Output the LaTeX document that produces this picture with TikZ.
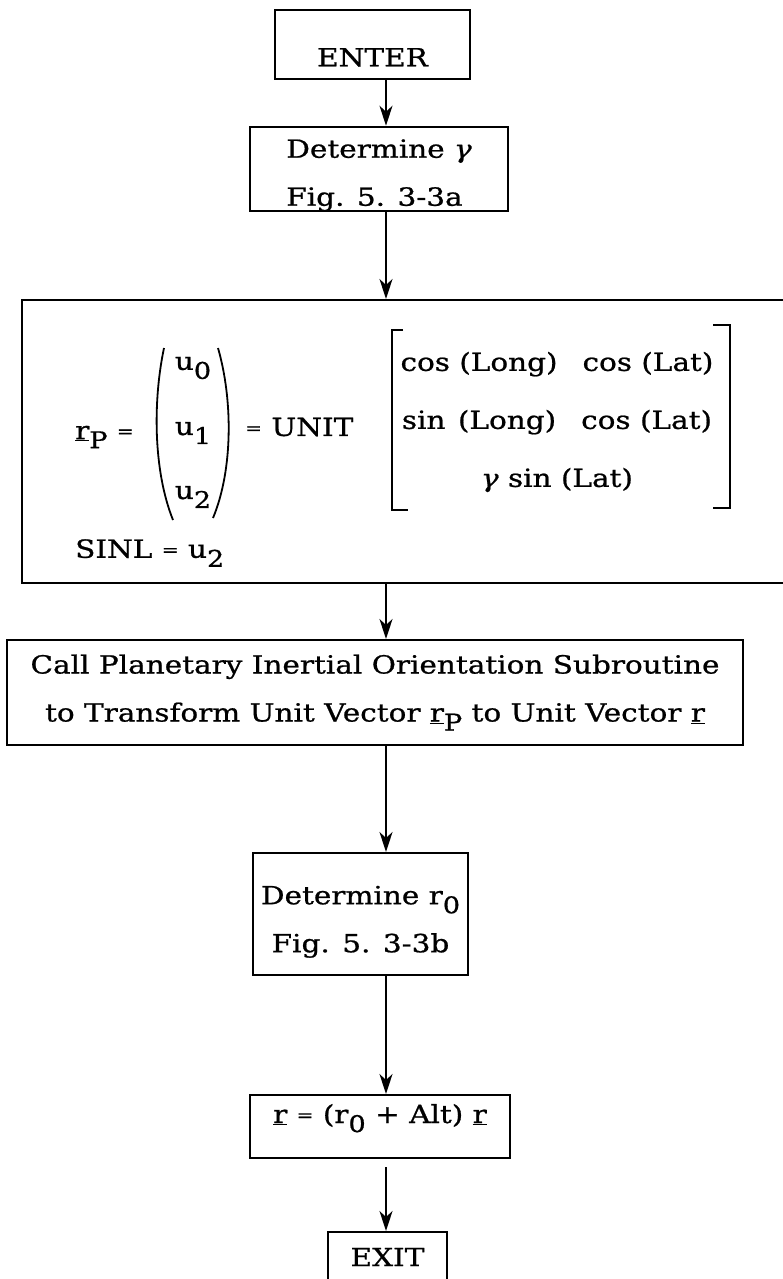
\documentclass[tikz,border=0pt]{standalone}
\usepackage{fontspec}
\setmainfont{DejaVu Serif}[FakeStretch=1.18, FakeBold=0.8]
\usetikzlibrary{arrows.meta}

\newcommand{\lo}[1]{\raisebox{-9pt}{\fontsize{23}{23}\selectfont #1}}
\newcommand{\eqs}{\raisebox{2pt}{\fontsize{17}{17}\selectfont =}}

\begin{document}
\begin{tikzpicture}[x=1pt, y=-1pt, >={Stealth[length=20pt, width=13pt, inset=6pt]},
    box/.style={draw, line width=2pt, inner sep=0pt, font=\fontsize{25}{48}\selectfont},
    txt/.style={inner sep=0pt, font=\fontsize{25}{58}\selectfont},
    flow/.style={->, line width=1.8pt}]
    % 画布
    \useasboundingbox (0,0) rectangle (782,1279);
    \coordinate (spine) at (386,0);

    % 入口与确定 gamma
    \node[box, minimum width=195pt, minimum height=69pt] (enter) at (372.5,44.5) {\rule{0pt}{44pt}ENTER};
    \node[box, minimum width=258pt, minimum height=82pt, align=left] (detg) at (379,169)
        {\rule{0pt}{31pt}Determine \textit{γ}\\Fig. 5. 3-3a};

    % 单位向量框 (右边超出画面)
    \node[box, minimum width=778pt, minimum height=283pt] (unit) at (411,441.5) {};
    \node[txt, anchor=west] (rp) at (75,437) {\underline{r}\lo{P} \eqs};
    \node[txt] (u0) at (193,368) {u\lo{0}};
    \node[txt] (u1) at (193,433) {u\lo{1}};
    \node[txt] (u2) at (193,497) {u\lo{2}};
    \draw[line width=1.8pt] (164,348) .. controls (153,400) and (153,470) .. (173,520);
    \draw[line width=1.8pt] (218,348) .. controls (233,400) and (233,470) .. (213,518);
    \node[txt, anchor=west] (unitop) at (245,427) {\eqs\ UNIT};
    \draw[line width=1.8pt] (403,330) -- (392,330) -- (392,510) -- (408,510);
    \draw[line width=1.8pt] (713,325) -- (730,325) -- (730,508) -- (713,508);
    \node[txt, align=center] (vec) at (557,422)
        {cos (Long)\quad cos (Lat)\\sin\enspace(Long)\quad cos (Lat)\\\textit{γ} sin (Lat)};
    \node[txt, anchor=west] (sinl) at (75,553) {SINL \eqs\ u\lo{2}};

    % 调用子程序
    \node[box, minimum width=736pt, minimum height=105pt, align=center] (call) at (375,692.5)
        {Call Planetary Inertial Orientation Subroutine\\to Transform Unit Vector \underline{r}\lo{P} to Unit Vector \underline{r}};

    % 确定 r0 与结果
    \node[box, minimum width=215pt, minimum height=122pt, align=center] (detr) at (360.5,914)
        {\rule{0pt}{34pt}Determine r\lo{0}\\Fig. 5. 3-3b};
    \node[box, minimum width=260pt, minimum height=63pt] (rbox) at (380,1126.5)
        {\rule[-26pt]{0pt}{26pt}\underline{r} \eqs\ (r\lo{0} + Alt) \underline{r}};
    \node[box, minimum width=119pt, minimum height=58pt] (exit) at (387.5,1261) {\rule[-8pt]{0pt}{8pt}EXIT};

    % 流程箭头
    \draw[flow] (enter.south -| spine) -- (detg.north -| spine);
    \draw[flow] (detg.south -| spine) -- (unit.north -| spine);
    \draw[flow] (unit.south -| spine) -- (call.north -| spine);
    \draw[flow] (call.south -| spine) -- (detr.north -| spine);
    \draw[flow] (detr.south -| spine) -- (rbox.north -| spine);
    \draw[flow, shorten <=8pt] (rbox.south -| spine) -- (exit.north -| spine);
\end{tikzpicture}
\end{document}
